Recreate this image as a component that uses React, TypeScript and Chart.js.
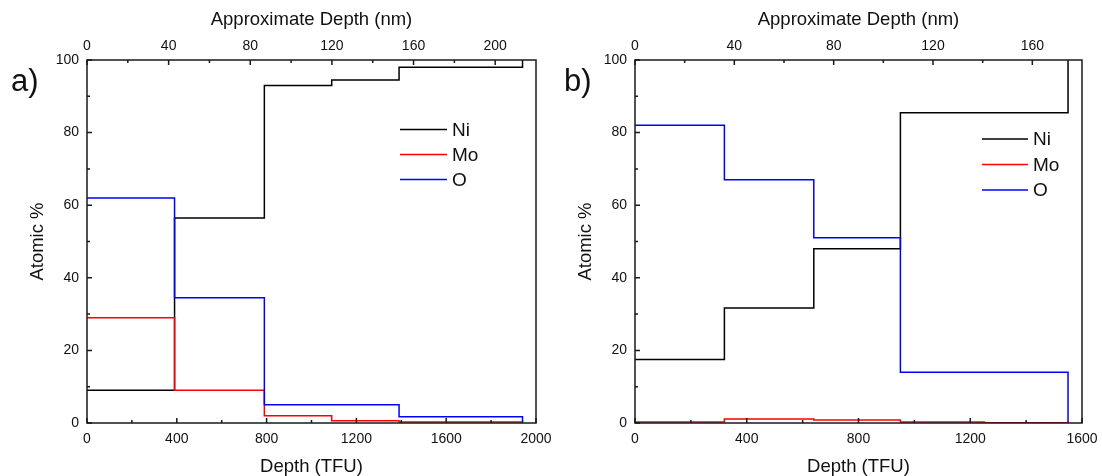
import React, { useEffect, useRef } from "react";
import { Chart, registerables } from "chart.js";

Chart.register(...registerables);
Chart.defaults.font.family = "'Liberation Sans', Arial, sans-serif";
Chart.defaults.color = "#111";

// ---------- data ----------
const elementNames = ["Ni", "Mo", "O"];
const elementColors = ["#000000", "#ff0000", "#0000ff"];

// panel a)
const aDepth = [0, 390, 790, 1090, 1390, 1940];
const aNi = [9, 56.5, 93, 94.5, 98, 100];
const aMo = [29, 9, 2, 0.6, 0.3, 0];
const aO = [62, 34.5, 5, 5, 1.7, 0];
const aBottomTicks = [0, 400, 800, 1200, 1600, 2000];
const aTopTicks = [0, 40, 80, 120, 160, 200];

// panel b)
const bDepth = [0, 320, 640, 950, 1250, 1550];
const bNi = [17.5, 31.7, 48, 85.5, 85.5, 100];
const bMo = [0.3, 1.1, 0.8, 0.25, 0.1, 0];
const bO = [82, 67, 51, 14, 14, 0];
const bBottomTicks = [0, 400, 800, 1200, 1600];
const bTopTicks = [0, 40, 80, 120, 160];

const yTicks = [0, 20, 40, 60, 80, 100];

// ---------- decoration plugin (frame, inward ticks, legend, panel label) ----------
function minorsOf(majors: number[], max: number) {
  const step = majors[1] - majors[0];
  const out: number[] = [];
  majors.forEach((v) => {
    const m = v + step / 2;
    if (m < max) out.push(m);
  });
  return out;
}

const decorPlugin = {
  id: "panelDecor",
  afterDatasetsDraw(chart: any, _args: any, opts: any) {
    const { ctx, chartArea } = chart;
    const { left, right, top, bottom } = chartArea;
    ctx.save();
    ctx.strokeStyle = "#1a1a1a";
    ctx.lineWidth = 1.5;
    ctx.strokeRect(left, top, right - left, bottom - top);

    const major = 5;
    const minor = 3;
    const sx = chart.scales.x;
    const sx2 = chart.scales.x2;
    const sy = chart.scales.y;
    ctx.beginPath();
    const xb = sx.ticks.map((t: any) => t.value);
    xb.forEach((v: number) => {
      const p = sx.getPixelForValue(v);
      ctx.moveTo(p, bottom);
      ctx.lineTo(p, bottom - major);
    });
    minorsOf(xb, sx.max).forEach((v) => {
      const p = sx.getPixelForValue(v);
      ctx.moveTo(p, bottom);
      ctx.lineTo(p, bottom - minor);
    });
    const xt = sx2.ticks.map((t: any) => t.value);
    xt.forEach((v: number) => {
      const p = sx2.getPixelForValue(v);
      ctx.moveTo(p, top);
      ctx.lineTo(p, top + major);
    });
    minorsOf(xt, sx2.max).forEach((v) => {
      const p = sx2.getPixelForValue(v);
      ctx.moveTo(p, top);
      ctx.lineTo(p, top + minor);
    });
    const yv = sy.ticks.map((t: any) => t.value);
    yv.forEach((v: number) => {
      const p = sy.getPixelForValue(v);
      ctx.moveTo(left, p);
      ctx.lineTo(left + major, p);
    });
    minorsOf(yv, sy.max).forEach((v) => {
      const p = sy.getPixelForValue(v);
      ctx.moveTo(left, p);
      ctx.lineTo(left + minor, p);
    });
    ctx.stroke();

    // legend
    const lg = opts.legend;
    ctx.font = "19px 'Liberation Sans', Arial, sans-serif";
    ctx.textBaseline = "middle";
    ctx.textAlign = "left";
    chart.data.datasets.forEach((ds: any, i: number) => {
      const y = lg.y + i * lg.gap;
      ctx.beginPath();
      ctx.strokeStyle = ds.borderColor;
      ctx.lineWidth = 1.5;
      ctx.moveTo(lg.x1, y);
      ctx.lineTo(lg.x2, y);
      ctx.stroke();
      ctx.fillStyle = "#111";
      ctx.fillText(ds.label, lg.tx, y + 1);
    });

    // panel label
    ctx.font = "31px 'Liberation Sans', Arial, sans-serif";
    ctx.textBaseline = "alphabetic";
    ctx.fillStyle = "#111";
    ctx.fillText(opts.label, opts.labelX, opts.labelY);
    ctx.restore();
  },
};

// ---------- panel ----------
type PanelProps = {
  left: number;
  label: string;
  depth: number[];
  series: number[][];
  bottomTicks: number[];
  topTicks: number[];
  xMax: number;
  topMax: number;
  axisW: number;
  padRight: number;
  yTitlePad: number;
  legend: { x1: number; x2: number; tx: number; y: number; gap: number };
  labelX: number;
  labelY: number;
};

function Panel(p: PanelProps) {
  const ref = useRef<HTMLCanvasElement | null>(null);
  useEffect(() => {
    if (!ref.current) return;
    const tickFont = { size: 14 };
    const titleFont = { size: 18.5, lineHeight: 1 };
    const chart = new Chart(ref.current, {
      type: "line",
      data: {
        datasets: elementNames.map((name, i) => ({
          label: name,
          data: p.depth.map((d, j) => ({ x: d, y: p.series[i][j] })),
          borderColor: elementColors[i],
          backgroundColor: elementColors[i],
          borderWidth: 1.5,
          pointRadius: 0,
          stepped: "before",
          fill: false,
          order: 3 - i,
        })),
      },
      options: {
        animation: false,
        responsive: false,
        maintainAspectRatio: false,
        layout: { padding: { left: 0, right: p.padRight, top: 0, bottom: 0 } },
        plugins: {
          legend: { display: false },
          tooltip: { enabled: false },
          panelDecor: { legend: p.legend, label: p.label, labelX: p.labelX, labelY: p.labelY },
        } as any,
        scales: {
          x: {
            type: "linear",
            position: "bottom",
            min: 0,
            max: p.xMax,
            grid: { display: false, drawTicks: false },
            border: { display: false },
            ticks: { padding: 7.5, font: tickFont, color: "#111", maxRotation: 0, autoSkip: false, callback: (v: any) => String(v) },
            afterBuildTicks: (s: any) => {
              s.ticks = p.bottomTicks.map((v) => ({ value: v }));
            },
            afterFit: (s: any) => {
              s.height = 53;
              s.paddingLeft = 0;
              s.paddingRight = 0;
            },
            title: { display: true, text: "Depth (TFU)", font: titleFont, color: "#111", padding: { top: 0, bottom: 0 } },
          },
          x2: {
            type: "linear",
            position: "top",
            min: 0,
            max: p.topMax,
            grid: { display: false, drawTicks: false },
            border: { display: false },
            ticks: { padding: 5, font: tickFont, color: "#111", maxRotation: 0, autoSkip: false, callback: (v: any) => String(v) },
            afterBuildTicks: (s: any) => {
              s.ticks = p.topTicks.map((v) => ({ value: v }));
            },
            afterFit: (s: any) => {
              s.height = 60;
              s.paddingLeft = 0;
              s.paddingRight = 0;
            },
            title: { display: true, text: "Approximate Depth (nm)", font: titleFont, color: "#111", padding: { top: 11, bottom: 0 } },
          },
          y: {
            type: "linear",
            position: "left",
            min: 0,
            max: 100,
            grid: { display: false, drawTicks: false },
            border: { display: false },
            ticks: { padding: 8, font: tickFont, color: "#111", autoSkip: false, callback: (v: any) => String(v) },
            afterBuildTicks: (s: any) => {
              s.ticks = yTicks.map((v) => ({ value: v }));
            },
            afterFit: (s: any) => {
              s.width = p.axisW;
              s.paddingTop = 0;
              s.paddingBottom = 0;
            },
            title: { display: true, text: "Atomic %", font: titleFont, color: "#111", padding: { top: p.yTitlePad, bottom: 0 } },
          },
        },
      } as any,
      plugins: [decorPlugin],
    });
    return () => chart.destroy();
  }, []);
  return (
    <canvas
      ref={ref}
      width={551}
      height={476}
      style={{ position: "absolute", left: p.left, top: 0, width: 551, height: 476 }}
    />
  );
}

export default function App() {
  return (
    <div style={{ position: "fixed", left: 0, top: 0, width: 1102, height: 476, background: "#fff" }}>
      <Panel
        left={0}
        label="a)"
        depth={aDepth}
        series={[aNi, aMo, aO]}
        bottomTicks={aBottomTicks}
        topTicks={aTopTicks}
        xMax={2000}
        topMax={220}
        axisW={87}
        padRight={15}
        yTitlePad={29}
        legend={{ x1: 400, x2: 447, tx: 452, y: 129.5, gap: 25 }}
        labelX={11}
        labelY={91}
      />
      <Panel
        left={551}
        label="b)"
        depth={bDepth}
        series={[bNi, bMo, bO]}
        bottomTicks={bBottomTicks}
        topTicks={bTopTicks}
        xMax={1600}
        topMax={180}
        axisW={84}
        padRight={20}
        yTitlePad={26}
        legend={{ x1: 431, x2: 477, tx: 482, y: 139, gap: 25.5 }}
        labelX={13}
        labelY={91}
      />
    </div>
  );
}
